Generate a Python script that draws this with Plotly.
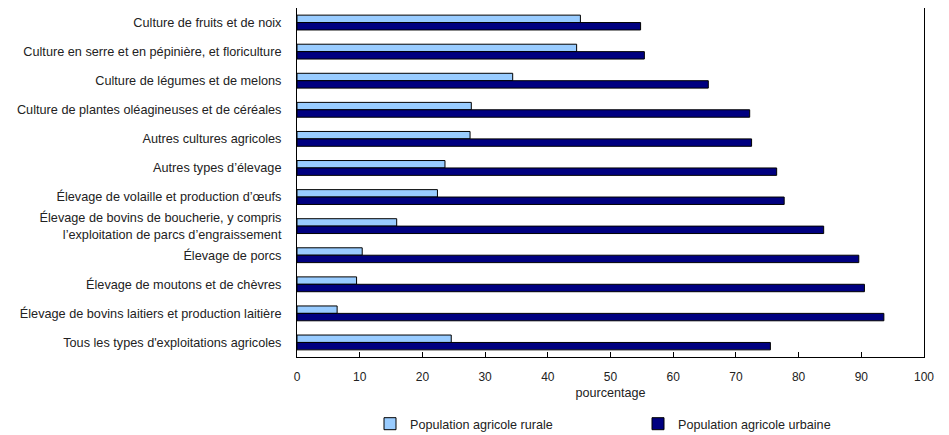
import plotly.graph_objects as go

categories = [
    "Culture de fruits et de noix",
    "Culture en serre et en pépinière, et floriculture",
    "Culture de légumes et de melons",
    "Culture de plantes oléagineuses et de céréales",
    "Autres cultures agricoles",
    "Autres types d’élevage",
    "Élevage de volaille et production d’œufs",
    "Élevage de bovins de boucherie, y compris<br>l’exploitation de parcs d’engraissement",
    "Élevage de porcs",
    "Élevage de moutons et de chèvres",
    "Élevage de bovins laitiers et production laitière",
    "Tous les types d'exploitations agricoles",
]
rural = [45.2, 44.6, 34.4, 27.8, 27.6, 23.6, 22.4, 15.9, 10.4, 9.5, 6.4, 24.6]
urbaine = [54.8, 55.4, 65.6, 72.2, 72.5, 76.5, 77.7, 84.0, 89.6, 90.5, 93.6, 75.5]

font = "Liberation Sans, Arial, sans-serif"
W, H = 941, 427  # page body has an 8px margin

fig = go.Figure()
fig.add_trace(go.Bar(y=categories, x=rural, orientation="h",
                     name="Population agricole rurale",
                     marker=dict(color="#99CCFF", line=dict(color="black", width=1))))
fig.add_trace(go.Bar(y=categories, x=urbaine, orientation="h",
                     name="Population agricole urbaine",
                     marker=dict(color="#000080", line=dict(color="black", width=1))))

fig.update_layout(
    width=W, height=H,
    margin=dict(l=289, r=25, t=0, b=78),
    barmode="group", bargap=0.49, bargroupgap=0,
    plot_bgcolor="white", paper_bgcolor="white",
    font=dict(family=font, size=12, color="#222"),
    showlegend=True,
    legend=dict(orientation="h", xref="container", x=(402 - 40) / W, xanchor="left",
                yref="container", y=1 - 416 / H, yanchor="middle",
                entrywidth=223, font=dict(size=12.6), traceorder="normal"),
)
fig.update_xaxes(range=[0, 100], dtick=10, showgrid=False, zeroline=False,
                 showline=True, linecolor="black", linewidth=1, mirror=True,
                 ticks="inside", ticklen=5, tickcolor="black",
                 ticklabelstandoff=9, tickfont=dict(size=12),
                 title=dict(text="pourcentage", standoff=4, font=dict(size=12.6)))
fig.update_yaxes(autorange="reversed", showgrid=False, showline=True,
                 linecolor="black", linewidth=1, mirror=True, ticks="",
                 ticklabelstandoff=12, tickfont=dict(size=12.7))

fig.write_html("out.html")
